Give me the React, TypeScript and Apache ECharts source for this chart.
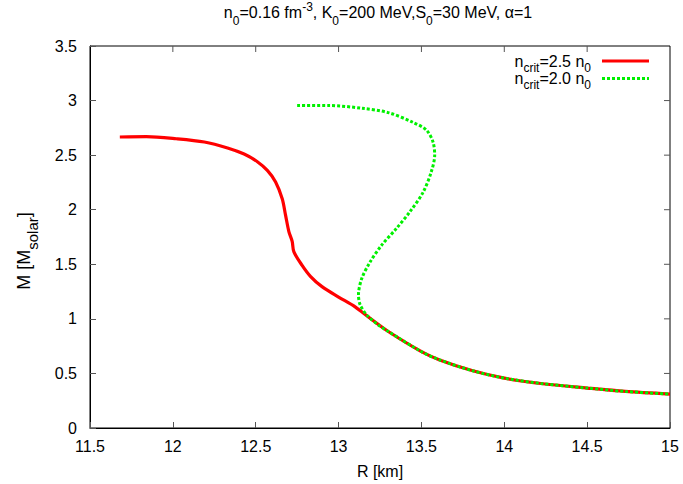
import React, { useEffect, useRef } from "react";
import * as echarts from "echarts";

const redR = [11.68, 11.84, 12.02, 12.19, 12.33, 12.43, 12.51, 12.57, 12.62, 12.66, 12.68, 12.70, 12.72, 12.73, 12.78, 12.83, 12.90, 13.0, 13.10, 13.19, 13.30, 13.50, 13.61, 13.81, 14.0, 14.22, 14.5, 14.73, 15.0];
const redM = [2.666, 2.669, 2.65, 2.62, 2.566, 2.51, 2.44, 2.36, 2.255, 2.10, 1.95, 1.80, 1.71, 1.615, 1.49, 1.39, 1.295, 1.20, 1.11, 1.005, 0.884, 0.70, 0.624, 0.524, 0.457, 0.408, 0.366, 0.335, 0.311];
const greenR = [12.75, 12.94, 13.14, 13.30, 13.45, 13.53, 13.57, 13.58, 13.56, 13.51, 13.43, 13.35, 13.26, 13.19, 13.14, 13.12, 13.13, 13.17, 13.24, 13.30, 13.50, 13.61, 13.81, 14.0, 14.22, 14.5, 14.73, 15.0];
const greenM = [2.955, 2.955, 2.93, 2.89, 2.80, 2.73, 2.62, 2.50, 2.35, 2.16, 1.98, 1.83, 1.675, 1.52, 1.37, 1.22, 1.13, 1.035, 0.944, 0.884, 0.70, 0.624, 0.524, 0.457, 0.408, 0.366, 0.335, 0.311];
const xTicks = [11.5, 12, 12.5, 13, 13.5, 14, 14.5, 15];
const yTicks = [0, 0.5, 1, 1.5, 2, 2.5, 3, 3.5];
const seriesNames = ["n_crit=2.5 n_0", "n_crit=2.0 n_0"];
const legendRich = ["{n|n}{sub|crit}{n|=2.5 n}{sub|0}", "{n|n}{sub|crit}{n|=2.0 n}{sub|0}"];

const FONT = "Liberation Sans, Arial, sans-serif";
const RED = "#ff0000";
const GREEN = "#00f000";

export default function App() {
  const ref = useRef<HTMLDivElement>(null);
  useEffect(() => {
    if (!ref.current) return;
    const chart = echarts.init(ref.current, null, { renderer: "svg" });
    const mkRich = (lh: number, fs = 16, sfs = 12) => ({
      n: { fontSize: fs, fontFamily: FONT, color: "#000", lineHeight: lh, verticalAlign: "middle" },
      sub: { fontSize: sfs, fontFamily: FONT, color: "#000", lineHeight: lh, verticalAlign: "bottom", padding: [0, 0, -4, 0] },
      sup: { fontSize: sfs, fontFamily: FONT, color: "#000", lineHeight: lh, verticalAlign: "top", padding: [0, 0, 4, 0] },
    });
    const rich = mkRich(22);
    const tickAxis = {
      axisLine: { show: true, onZero: false, lineStyle: { color: "#000", width: 1 } },
      axisTick: { show: true, inside: true, length: 6, lineStyle: { color: "#555" } },
      splitLine: { show: false },
    };
    const legendGraphics: any[] = [];
    [0, 1].forEach((i) => {
      const y = 61 + i * 17.5;
      legendGraphics.push({
        type: "text",
        x: 591,
        y,
        style: { text: legendRich[i], align: "right", verticalAlign: "middle", rich: mkRich(17) },
      });
      legendGraphics.push({
        type: "line",
        shape: { x1: 602, y1: y, x2: 649, y2: y },
        style: i === 0 ? { stroke: RED, lineWidth: 3.2 } : { stroke: GREEN, lineWidth: 3, lineDash: [3, 2] },
      });
    });
    const title = {
      type: "text",
      x: 378,
      y: 12,
      style: {
        text: "{n|n}{sub|0}{n|=0.16 fm}{sup|-3}{n|, K}{sub|0}{n|=200 MeV,S}{sub|0}{n|=30 MeV, α=1}",
        align: "center",
        verticalAlign: "middle",
        rich,
      },
    };
    const yName = {
      type: "text",
      x: 24,
      y: 251,
      rotation: Math.PI / 2,
      style: {
        text: "{n|M [M}{sub|solar}{n|]}",
        align: "center",
        verticalAlign: "middle",
        rich: mkRich(24, 18, 15),
      },
    };
    chart.setOption({
      animation: false,
      grid: { left: 90, right: 13, top: 46, bottom: 53, containLabel: false, show: true, borderColor: "#000", borderWidth: 1, backgroundColor: "transparent" },
      graphic: [title, yName, ...legendGraphics],
      xAxis: {
        type: "value",
        min: 11.5,
        max: 15,
        interval: 0.5,
        name: "R [km]",
        nameLocation: "middle",
        nameGap: 35,
        nameTextStyle: { fontFamily: FONT, fontSize: 16, color: "#000" },
        axisLabel: { fontFamily: FONT, fontSize: 16, color: "#000", margin: 10 },
        ...tickAxis,
      },
      yAxis: {
        type: "value",
        min: 0,
        max: 3.5,
        interval: 0.5,
        axisLabel: { fontFamily: FONT, fontSize: 16, color: "#000", margin: 13 },
        ...tickAxis,
      },
      series: [
        {
          name: seriesNames[0],
          type: "line",
          smooth: 0.3,
          showSymbol: false,
          symbol: "none",
          data: redR.map((r, i) => [r, redM[i]]),
          lineStyle: { color: RED, width: 3.2 },
          itemStyle: { color: RED },
        },
        {
          name: seriesNames[1],
          type: "line",
          smooth: 0.3,
          showSymbol: false,
          symbol: "none",
          data: greenR.map((r, i) => [r, greenM[i]]),
          lineStyle: { color: GREEN, width: 3, type: [3, 2] },
          itemStyle: { color: GREEN },
        },
      ],
    });
    // mirrored ticks on top and right edges, positioned through the chart's scales
    const topY = chart.convertToPixel({ yAxisIndex: 0 }, 3.5) as number;
    const rightX = chart.convertToPixel({ xAxisIndex: 0 }, 15) as number;
    const mirror: any[] = [];
    xTicks.slice(1, -1).forEach((v) => {
      const px = chart.convertToPixel({ xAxisIndex: 0 }, v) as number;
      mirror.push({ type: "line", shape: { x1: px, y1: topY, x2: px, y2: topY + 6 }, style: { stroke: "#555", lineWidth: 1 } });
    });
    yTicks.slice(1, -1).forEach((v) => {
      const py = chart.convertToPixel({ yAxisIndex: 0 }, v) as number;
      mirror.push({ type: "line", shape: { x1: rightX - 6, y1: py, x2: rightX, y2: py }, style: { stroke: "#555", lineWidth: 1 } });
    });
    chart.setOption({ graphic: [title, yName, ...legendGraphics, ...mirror] });
    return () => chart.dispose();
  }, []);
  return <div ref={ref} style={{ width: 683, height: 484, position: "absolute", left: 0, top: 0 }} />;
}
